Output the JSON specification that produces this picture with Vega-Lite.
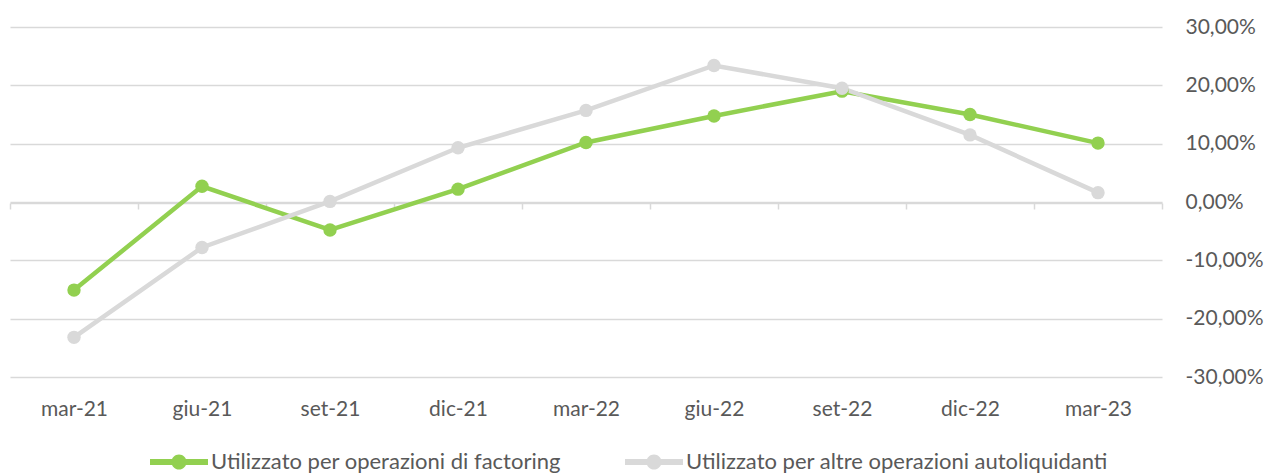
{
  "$schema": "https://vega.github.io/schema/vega-lite/v6.json",
  "width": 1152,
  "height": 350,
  "autosize": {"type": "none"},
  "padding": {"left": 10, "top": 27, "right": 104, "bottom": 96},
  "background": "white",
  "config": {
    "font": "Lato",
    "view": {"stroke": null},
    "axis": {"labelFont": "Lato", "labelColor": "#595959", "labelFontSize": 21}
  },
  "data": {
    "values": [
      {"periodo": "mar-21", "serie": "Utilizzato per operazioni di factoring", "valore": -15.1},
      {"periodo": "giu-21", "serie": "Utilizzato per operazioni di factoring", "valore": 2.7},
      {"periodo": "set-21", "serie": "Utilizzato per operazioni di factoring", "valore": -4.8},
      {"periodo": "dic-21", "serie": "Utilizzato per operazioni di factoring", "valore": 2.2},
      {"periodo": "mar-22", "serie": "Utilizzato per operazioni di factoring", "valore": 10.2},
      {"periodo": "giu-22", "serie": "Utilizzato per operazioni di factoring", "valore": 14.75},
      {"periodo": "set-22", "serie": "Utilizzato per operazioni di factoring", "valore": 19.0},
      {"periodo": "dic-22", "serie": "Utilizzato per operazioni di factoring", "valore": 15.0},
      {"periodo": "mar-23", "serie": "Utilizzato per operazioni di factoring", "valore": 10.1},
      {"periodo": "mar-21", "serie": "Utilizzato per altre operazioni autoliquidanti", "valore": -23.2},
      {"periodo": "giu-21", "serie": "Utilizzato per altre operazioni autoliquidanti", "valore": -7.8},
      {"periodo": "set-21", "serie": "Utilizzato per altre operazioni autoliquidanti", "valore": 0.1},
      {"periodo": "dic-21", "serie": "Utilizzato per altre operazioni autoliquidanti", "valore": 9.3},
      {"periodo": "mar-22", "serie": "Utilizzato per altre operazioni autoliquidanti", "valore": 15.7},
      {"periodo": "giu-22", "serie": "Utilizzato per altre operazioni autoliquidanti", "valore": 23.4},
      {"periodo": "set-22", "serie": "Utilizzato per altre operazioni autoliquidanti", "valore": 19.5},
      {"periodo": "dic-22", "serie": "Utilizzato per altre operazioni autoliquidanti", "valore": 11.5},
      {"periodo": "mar-23", "serie": "Utilizzato per altre operazioni autoliquidanti", "valore": 1.6}
    ]
  },
  "encoding": {
    "x": {
      "field": "periodo",
      "type": "nominal",
      "sort": null,
      "scale": {"paddingInner": 0, "paddingOuter": 0},
      "axis": {
        "title": null,
        "labelAngle": 0,
        "offset": -174,
        "domainColor": "#d9d9d9",
        "domainWidth": 1.5,
        "tickColor": "#d9d9d9",
        "tickWidth": 1.5,
        "tickSize": 6,
        "tickBand": "extent",
        "labelPadding": 189,
        "grid": false
      }
    },
    "y": {
      "field": "valore",
      "type": "quantitative",
      "scale": {"domain": [-30, 30], "nice": false},
      "axis": {
        "orient": "right",
        "title": null,
        "values": [-30, -20, -10, 0, 10, 20, 30],
        "labelExpr": "(datum.value < 0 ? '-' : '') + replace(format(abs(datum.value), '.2f'), '.', ',') + '%'",
        "labelAlign": "left",
        "labelPadding": 23,
        "domain": false,
        "ticks": false,
        "grid": true,
        "gridColor": "#d9d9d9",
        "gridWidth": 1.5
      }
    },
    "color": {
      "field": "serie",
      "type": "nominal",
      "sort": null,
      "scale": {
        "domain": ["Utilizzato per operazioni di factoring", "Utilizzato per altre operazioni autoliquidanti"],
        "range": ["#92D050", "#D9D9D9"]
      },
      "legend": {
        "title": null,
        "orient": "none",
        "legendX": 140,
        "legendY": 406,
        "direction": "horizontal",
        "labelFont": "Lato",
        "labelFontSize": 22,
        "labelColor": "#595959",
        "labelLimit": 0,
        "labelOffset": 3,
        "columnPadding": 64,
        "symbolType": "M-1,-0.1L1,-0.1L1,0.1L-1,0.1Z M-0.26,0A0.26,0.26 0 1,1 0.26,0A0.26,0.26 0 1,1 -0.26,0Z",
        "symbolSize": 3364,
        "symbolStrokeWidth": 0,
        "encode": {
          "symbols": {"update": {"fill": {"scale": "color", "field": "value"}, "fillOpacity": {"value": 1}, "strokeWidth": {"value": 0}}}
        }
      }
    }
  },
  "layer": [
    {"mark": {"type": "line", "strokeWidth": 4.5}},
    {"mark": {"type": "point", "filled": true, "size": 180, "opacity": 1}}
  ]
}
